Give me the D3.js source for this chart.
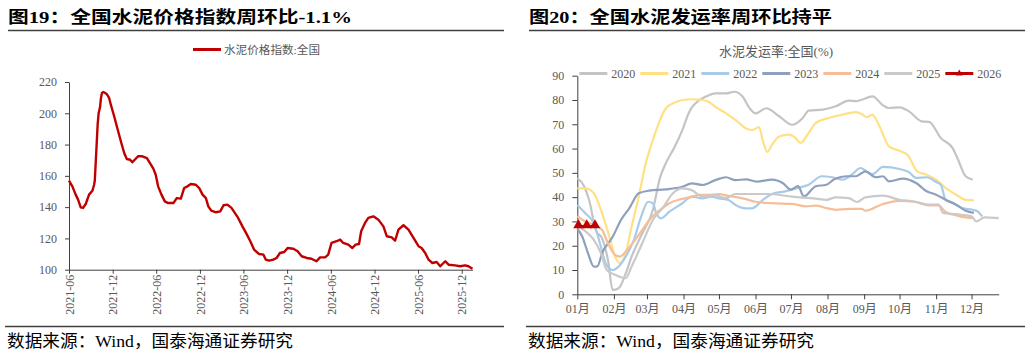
<!DOCTYPE html>
<html>
<head>
<meta charset="utf-8">
<script src="https://cdn.jsdelivr.net/npm/d3@7"></script>
<style>
    body { margin: 0; background: #fff; }
    svg { display: block; }
    .axis text { fill: #595959; font-family: "Liberation Serif", "Noto Sans CJK SC", serif; font-size: 12px; }
    .axis path, .axis line { stroke: #404040; stroke-width: 1px; }
</style>
</head>
<body>
<svg id="chart"></svg>
<script>
// titles and notes
var titles = ['图19：全国水泥价格指数周环比-1.1%', '图20：全国水泥发运率周环比持平'];
var sourceNote = '数据来源：Wind，国泰海通证券研究';
var priceLabel = '水泥价格指数:全国';
var rateLabel = '水泥发运率:全国(%)';

// left chart: weekly cement price index
var priceTicks = ['2021-06-01', '2021-12-01', '2022-06-01', '2022-12-01', '2023-06-01', '2023-12-01',
    '2024-06-01', '2024-12-01', '2025-06-01', '2025-12-01'];
var priceIndex = [
    ['2021-06-01', 156.9], ['2021-06-15', 153.3], ['2021-06-29', 148], ['2021-07-09', 144.8], ['2021-07-20', 139.9],
    ['2021-07-30', 139.5], ['2021-08-10', 142], ['2021-08-24', 148], ['2021-09-07', 150.5], ['2021-09-14', 154.3],
    ['2021-09-17', 157], ['2021-09-24', 178], ['2021-09-29', 193], ['2021-10-03', 200], ['2021-10-09', 204],
    ['2021-10-13', 210], ['2021-10-17', 213], ['2021-10-23', 213.6], ['2021-11-06', 212.3], ['2021-11-16', 209.8],
    ['2021-11-23', 205.5], ['2021-12-07', 198.1], ['2021-12-20', 190.6], ['2022-01-04', 182.1], ['2022-01-18', 174.6],
    ['2022-01-29', 170.8], ['2022-02-12', 170.3], ['2022-02-21', 168.7], ['2022-03-03', 170.3], ['2022-03-17', 172.5],
    ['2022-04-04', 172.5], ['2022-04-23', 171.4], ['2022-05-06', 168.2], ['2022-05-20', 164.6], ['2022-05-30', 160.7],
    ['2022-06-09', 153.3], ['2022-06-23', 148], ['2022-07-07', 143.7], ['2022-07-21', 142.6], ['2022-08-12', 142.6],
    ['2022-08-26', 145.8], ['2022-09-12', 145.4], ['2022-09-26', 152.2], ['2022-10-10', 153.3], ['2022-10-24', 154.8],
    ['2022-11-14', 154.3], ['2022-11-28', 152.2], ['2022-12-12', 148], ['2022-12-26', 145.8], ['2023-01-05', 140.5],
    ['2023-01-18', 137.7], ['2023-02-06', 136.7], ['2023-02-24', 137.3], ['2023-03-10', 141.2], ['2023-03-26', 141.6],
    ['2023-04-12', 139.5], ['2023-04-26', 136.3], ['2023-05-10', 133.1], ['2023-05-28', 127.7], ['2023-06-12', 123.5],
    ['2023-06-30', 118.2], ['2023-07-16', 112.8], ['2023-08-06', 110], ['2023-08-24', 109.6], ['2023-09-03', 106.4],
    ['2023-09-17', 105.8], ['2023-10-04', 106.4], ['2023-10-18', 107.5], ['2023-11-01', 110.7], ['2023-11-19', 111.3],
    ['2023-12-03', 113.9], ['2023-12-27', 113.4], ['2024-01-14', 111.8], ['2024-01-31', 108.6], ['2024-02-21', 107.5],
    ['2024-03-12', 107], ['2024-04-02', 105.4], ['2024-04-17', 107.9], ['2024-05-08', 107.9], ['2024-05-21', 109.6],
    ['2024-06-04', 117.1], ['2024-06-25', 118.2], ['2024-07-10', 119.2], ['2024-07-23', 117.1], ['2024-08-13', 116],
    ['2024-08-30', 113.9], ['2024-09-13', 116], ['2024-09-27', 116.4], ['2024-10-06', 124.6], ['2024-10-22', 129.9],
    ['2024-11-05', 133.1], ['2024-11-26', 134.1], ['2024-12-17', 132], ['2025-01-07', 127.7], ['2025-01-21', 121.4],
    ['2025-02-11', 120.7], ['2025-02-25', 118.5], ['2025-03-11', 125.6], ['2025-04-01', 128.4], ['2025-04-22', 125.6],
    ['2025-05-13', 120.3], ['2025-06-03', 115], ['2025-06-16', 113.9], ['2025-07-01', 110.7], ['2025-07-15', 106.4],
    ['2025-07-31', 104.3], ['2025-08-18', 104.9], ['2025-09-02', 102.2], ['2025-09-23', 105.4], ['2025-10-07', 103.2],
    ['2025-11-03', 102.8], ['2025-11-24', 102.2], ['2025-12-15', 102.8], ['2025-12-29', 102.2], ['2026-01-15', 100.6]
];

// right chart: cement shipment rate by year (month-day, %)
var years = ['2020', '2021', '2022', '2023', '2024', '2025', '2026'];
var monthTicks = ['01-01', '02-01', '03-01', '04-01', '05-01', '06-01', '07-01', '08-01', '09-01', '10-01', '11-01', '12-01'];
var rate2020 = [
    ['01-01', 47.8], ['01-07', 44.3], ['01-11', 38.8], ['01-17', 26], ['01-22', 23], ['01-27', 14], ['01-31', 1.8],
    ['02-05', 2.5], ['02-11', 8.6], ['02-16', 15.5], ['02-25', 25], ['03-06', 34.7], ['03-12', 47.9], ['03-17', 54],
    ['03-24', 60.2], ['03-31', 67.6], ['04-06', 75.3], ['04-11', 78.6], ['04-20', 81.4], ['04-28', 82.7], ['05-07', 82.7],
    ['05-14', 83.4], ['05-21', 81.4], ['05-27', 76.6], ['06-01', 74.5], ['06-10', 76.6], ['06-21', 73.3], ['07-02', 69.8],
    ['07-11', 72.6], ['07-16', 75.6], ['07-28', 76], ['08-08', 77.4], ['08-19', 79.7], ['08-25', 79.5], ['08-30', 80.1],
    ['09-08', 81.5], ['09-17', 77.8], ['09-22', 76.7], ['10-01', 77], ['10-09', 75.3], ['10-20', 71.2], ['10-26', 71],
    ['11-05', 64.3], ['11-15', 60.2], ['11-19', 56.1], ['11-26', 48.6], ['12-02', 47.2]
];
var rate2021 = [
    ['01-01', 43.6], ['01-08', 43.6], ['01-15', 41.6], ['01-22', 33.3], ['01-29', 22.4], ['02-02', 15.5], ['02-06', 12.8],
    ['02-11', 16.9], ['02-16', 27.8], ['02-22', 40.2], ['02-28', 53.9], ['03-06', 63.5], ['03-11', 70.4], ['03-17', 76.6],
    ['03-23', 78.6], ['03-31', 80], ['04-08', 80.3], ['04-17', 80], ['04-22', 79.3], ['04-28', 77.2], ['05-07', 74.5],
    ['05-15', 71.8], ['05-24', 68.3], ['05-29', 67.6], ['06-04', 68.8], ['06-07', 63.6], ['06-11', 58.6], ['06-15', 61.6],
    ['06-21', 65], ['06-29', 65.7], ['07-05', 64.3], ['07-09', 62.3], ['07-15', 65.7], ['07-22', 70.5], ['08-02', 72.6],
    ['08-13', 73.9], ['08-25', 75], ['08-30', 74.2], ['09-03', 72.9], ['09-08', 73.9], ['09-14', 69.2], ['09-22', 60.9],
    ['10-01', 59.1], ['10-08', 57.2], ['10-16', 50.6], ['10-24', 49.2], ['11-01', 47.2], ['11-09', 43.8], ['11-18', 41],
    ['11-26', 38.9], ['12-03', 38.7]
];
var rate2022 = [
    ['01-01', 36.8], ['01-08', 33.3], ['01-15', 29.2], ['01-21', 19.6], ['01-25', 12.8], ['01-31', 10], ['02-05', 11.4],
    ['02-11', 15.5], ['02-18', 22.4], ['02-24', 31.9], ['03-02', 38.1], ['03-06', 37.5], ['03-09', 33.3], ['03-13', 31.3],
    ['03-20', 34], ['03-31', 37.5], ['04-08', 40.2], ['04-17', 39.5], ['04-25', 40.2], ['05-01', 39.5], ['05-09', 38.8],
    ['05-15', 36.8], ['05-24', 35.4], ['05-29', 35.4], ['06-07', 38.8], ['06-15', 41.3], ['06-26', 42.4], ['07-07', 43.8],
    ['07-16', 45.1], ['07-27', 48.6], ['08-05', 48.2], ['08-14', 47.2], ['08-22', 49.5], ['08-29', 52], ['09-03', 50.6],
    ['09-08', 49.5], ['09-17', 52.5], ['10-01', 51.6], ['10-09', 50.3], ['10-15', 47.9], ['10-24', 48.2], ['11-01', 46.2],
    ['11-05', 45.1], ['11-09', 38.9], ['11-15', 37.6], ['11-23', 35.5], ['12-02', 34.8], ['12-06', 34.2], ['12-10', 32.1]
];
var rate2023 = [
    ['01-01', 27], ['01-05', 24], ['01-10', 17], ['01-15', 11.4], ['01-18', 11.5], ['01-22', 16.9], ['01-31', 23.7],
    ['02-07', 30.6], ['02-14', 35.4], ['02-22', 41.6], ['03-03', 42.7], ['03-17', 43.2], ['03-31', 44.3], ['04-08', 45.7],
    ['04-17', 45], ['04-28', 47], ['05-07', 48.2], ['05-15', 47], ['05-24', 47.3], ['06-02', 46.4], ['06-15', 47.2],
    ['06-24', 45.8], ['07-01', 43.1], ['07-07', 44.5], ['07-12', 40.3], ['07-22', 44.5], ['07-31', 45.1], ['08-07', 47.5],
    ['08-17', 48.6], ['08-25', 48.6], ['08-30', 49.9], ['09-02', 50.6], ['09-11', 48.2], ['09-17', 48.6], ['09-22', 46.5],
    ['10-04', 47.6], ['10-15', 45.8], ['10-24', 42.4], ['11-01', 41], ['11-09', 38.9], ['11-18', 36.9], ['11-26', 34.4],
    ['12-03', 33.5]
];
var rate2024 = [
    ['01-01', 32.2], ['01-08', 29.9], ['01-16', 28.5], ['01-22', 26.5], ['01-27', 21], ['02-02', 16.2], ['02-06', 15.5],
    ['02-12', 18.2], ['02-19', 22.4], ['02-25', 26.5], ['03-03', 30.6], ['03-12', 34.7], ['03-20', 37.5], ['03-29', 39.1],
    ['04-06', 39.9], ['04-15', 40.9], ['04-23', 40.9], ['05-01', 41.3], ['05-09', 40.5], ['05-21', 39.5], ['06-01', 38.1],
    ['06-15', 37.5], ['07-02', 37.2], ['07-14', 36.2], ['07-22', 36.5], ['07-31', 35.5], ['08-08', 34.8], ['08-19', 35.2],
    ['08-30', 35.2], ['09-02', 34.4], ['09-17', 37.2], ['10-01', 38.5], ['10-15', 38], ['10-26', 36.6], ['11-03', 36.6],
    ['11-09', 33.9], ['11-18', 32.5], ['11-26', 31.7], ['12-03', 31.4]
];
var rate2025 = [
    ['01-01', 28], ['01-10', 25.1], ['01-15', 22.4], ['01-21', 16.9], ['01-26', 10], ['02-02', 8], ['02-11', 6.6],
    ['02-16', 11.4], ['02-25', 21], ['03-06', 30.6], ['03-15', 36], ['03-23', 41.6], ['03-31', 43.6], ['04-08', 42.9],
    ['04-17', 40.2], ['04-28', 40.8], ['05-07', 39.6], ['05-15', 41.3], ['05-27', 41.3], ['06-12', 41.3], ['07-02', 40.2],
    ['07-22', 39.4], ['07-31', 38.9], ['08-08', 39.9], ['08-19', 39.6], ['08-26', 38], ['09-02', 39.9], ['09-17', 40.6],
    ['10-01', 38.9], ['10-12', 38.3], ['10-26', 36.9], ['11-03', 36.9], ['11-07', 33.5], ['11-18', 33], ['12-01', 32.1],
    ['12-05', 30], ['12-12', 31.7], ['12-24', 31.4]
];
var rate2026 = [['01-02', 28], ['01-09', 28], ['01-16', 28]];

document.addEventListener('DOMContentLoaded', function () {
    var width = 1032;
    var height = 354;
    var parseDay = d3.timeParse('%Y-%m-%d');
    var parseMd = function (md) { return parseDay('2001-' + md); };
    var serif = '"Liberation Serif", "Noto Sans CJK SC", serif';

    var svg = d3.select('#chart')
        .attr('width', width)
        .attr('height', height)
        .style('background', '#fff');

    // headings and rules
    [{x: 8, x2: 504, w: 344}, {x: 529, x2: 1025, w: 303}].forEach(function (p, i) {
        svg.append('text')
            .attr('x', p.x).attr('y', 23)
            .attr('textLength', p.w).attr('lengthAdjust', 'spacingAndGlyphs')
            .style('font-family', serif).style('font-weight', 'bold').style('font-size', '17px')
            .style('fill', '#000')
            .text(titles[i]);
        svg.append('line')
            .attr('x1', p.x).attr('x2', p.x2).attr('y1', 30.5).attr('y2', 30.5)
            .style('stroke', '#404040').style('stroke-width', 1.5);
        svg.append('line')
            .attr('x1', p.x - 3).attr('x2', p.x2).attr('y1', 326.5).attr('y2', 326.5)
            .style('stroke', '#404040').style('stroke-width', 1.5);
        svg.append('text')
            .attr('x', p.x - 1).attr('y', 347)
            .attr('textLength', 286).attr('lengthAdjust', 'spacingAndGlyphs')
            .style('font-family', serif).style('font-size', '17px').style('fill', '#000')
            .text(sourceNote);
    });

    // ---------- left chart ----------
    var xL = d3.scaleTime()
        .domain([parseDay('2021-06-01'), parseDay('2026-01-15')])
        .range([69, 472.5]);
    var yL = d3.scaleLinear().domain([100, 220]).range([269.7, 82]);

    svg.append('g')
        .attr('class', 'axis')
        .attr('transform', 'translate(69,0)')
        .call(d3.axisLeft(yL).tickValues(d3.range(100, 221, 20)).tickSize(4).tickPadding(8).tickSizeOuter(0));

    var gx = svg.append('g')
        .attr('class', 'axis')
        .attr('transform', 'translate(0,269.7)')
        .call(d3.axisBottom(xL)
            .tickValues(priceTicks.map(parseDay))
            .tickFormat(d3.timeFormat('%Y-%m'))
            .tickSize(4).tickSizeOuter(0));
    gx.selectAll('text')
        .attr('transform', 'rotate(-90)')
        .attr('x', -5).attr('y', 0).attr('dy', '0.35em')
        .style('text-anchor', 'end');

    svg.append('path')
        .datum(priceIndex)
        .attr('d', d3.line()
            .x(d => xL(parseDay(d[0])))
            .y(d => yL(d[1])))
        .style('fill', 'none')
        .style('stroke', '#C00000')
        .style('stroke-width', 2.4)
        .style('stroke-linejoin', 'round');

    // legend left
    svg.append('line')
        .attr('x1', 193).attr('x2', 221).attr('y1', 49.5).attr('y2', 49.5)
        .style('stroke', '#C00000').style('stroke-width', 3);
    svg.append('text')
        .attr('x', 224).attr('y', 53.5)
        .attr('textLength', 96).attr('lengthAdjust', 'spacingAndGlyphs')
        .style('font-family', serif).style('font-size', '11px').style('fill', '#595959')
        .text(priceLabel);

    // ---------- right chart ----------
    var xR = d3.scaleTime()
        .domain([parseMd('01-01'), parseMd('12-24')])
        .range([577.3, 998.7]);
    var yR = d3.scaleLinear().domain([0, 90]).range([294.3, 75.7]);

    svg.append('g')
        .attr('class', 'axis')
        .attr('transform', 'translate(577.3,0)')
        .call(d3.axisLeft(yR).tickValues(d3.range(0, 91, 10)).tickSize(5).tickPadding(8).tickSizeOuter(0));

    svg.append('g')
        .attr('class', 'axis')
        .attr('transform', 'translate(0,294.3)')
        .call(d3.axisBottom(xR)
            .tickValues(monthTicks.map(parseMd))
            .tickFormat(d => d3.timeFormat('%m')(d) + '月')
            .tickSize(5).tickPadding(5).tickSizeOuter(0));

    var seriesData = [rate2020, rate2021, rate2022, rate2023, rate2024, rate2025, rate2026];
    var colors = ['#C4C4C4', '#FFE083', '#A9CBEA', '#8FA0BC', '#F6BE98', '#CACACA', '#C00000'];

    var lineR = d3.line()
        .x(d => xR(parseMd(d[0])))
        .y(d => yR(d[1]))
        .curve(d3.curveMonotoneX);

    svg.selectAll('.rate')
        .data(seriesData)
        .enter().append('path')
        .attr('class', 'rate')
        .attr('d', lineR)
        .style('fill', 'none')
        .style('stroke', (d, i) => colors[i])
        .style('stroke-width', (d, i) => i === 6 ? 2.5 : 2.2)
        .style('stroke-linejoin', 'round');

    var tri = d3.symbol().type(d3.symbolTriangle).size(48);
    svg.selectAll('.mark')
        .data(rate2026)
        .enter().append('path')
        .attr('class', 'mark')
        .attr('d', tri)
        .attr('transform', d => 'translate(' + xR(parseMd(d[0])) + ',' + (yR(d[1]) - 1) + ')')
        .style('fill', '#C00000');

    // right title + legend
    svg.append('text')
        .attr('x', 776).attr('y', 55.5)
        .attr('text-anchor', 'middle')
        .style('font-family', serif).style('font-size', '13px').style('fill', '#595959')
        .text(rateLabel);

    var legend = svg.selectAll('.leg')
        .data(years)
        .enter().append('g')
        .attr('class', 'leg')
        .attr('transform', (d, i) => 'translate(' + (579.3 + i * 61) + ',73.5)');
    legend.append('line')
        .attr('x1', 0).attr('x2', 28)
        .style('stroke', (d, i) => colors[i])
        .style('stroke-width', 3);
    legend.filter((d, i) => i === 6).append('path')
        .attr('d', d3.symbol().type(d3.symbolTriangle).size(20))
        .attr('transform', 'translate(14,0)')
        .style('fill', '#C00000');
    legend.append('text')
        .attr('x', 32).attr('y', 4.5)
        .style('font-family', serif).style('font-size', '12px').style('fill', '#595959')
        .text(d => d);
});
</script>
</body>
</html>
